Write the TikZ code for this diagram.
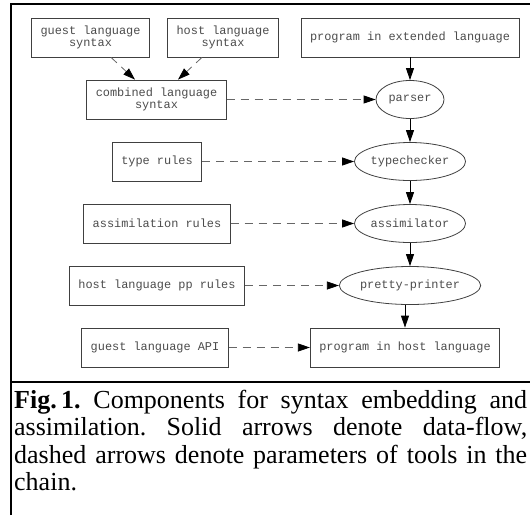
\documentclass[tikz,border=0pt]{standalone}
\usepackage{fontspec}
\setmainfont{Liberation Serif}
\setmonofont{Liberation Mono}
\usetikzlibrary{shapes.geometric, arrows.meta}

\tikzset{
  tool/.style={draw=black!75, line width=0.8pt, text=black!70, inner ysep=0pt,
    font=\ttfamily\fontsize{11.9}{12.5}\selectfont, align=center},
  toolbox/.style={tool, inner xsep=9pt, minimum height=39pt},
  stage/.style={tool, ellipse, inner xsep=0pt, minimum height=38pt},
  flow/.style={line width=0.8pt, -{Triangle[length=12pt,width=8pt]}},
  param/.style={flow, draw=black!60, dash pattern=on 8pt off 6pt,
    -{Triangle[length=12pt,width=8pt,color=black]}},
}

\begin{document}
\begin{tikzpicture}[x=1pt, y=-1pt]
    \useasboundingbox (0,0) rectangle (530,515);

    % frame
    \draw[line width=1.3pt] (11,515) -- (11,4) -- (530,4);
    \draw[line width=1.3pt] (11,382) -- (530,382);

    % inputs
    \node[toolbox] (guest) at (90.5,37.5) {guest language\\syntax};
    \node[toolbox] (host) at (223,37.5) {host language\\syntax};
    \node[toolbox] (comb) at (156.5,99.5) {combined language\\syntax};
    \node[toolbox] (types) at (157,161.5) {type rules};
    \node[toolbox] (assim) at (157,223.5) {assimilation rules};
    \node[toolbox] (pprules) at (157,285.5) {host language pp rules};
    \node[toolbox] (api) at (155,347.5) {guest language API};

    % tool chain
    \node[toolbox] (extprog) at (410,37.5) {program in extended language};
    \node[stage, minimum width=68pt] (parser) at (410,99.5) {parser};
    \node[stage, minimum width=105pt] (checker) at (410,161.5) {typechecker};
    \node[stage, minimum width=105pt] (assimilator) at (410,223.5) {assimilator};
    \node[stage, minimum width=125pt] (printer) at (410,285.5) {pretty-printer};
    \node[toolbox] (hostprog) at (405,347.5) {program in host language};

    % data-flow
    \foreach \a/\b in {extprog/parser, parser/checker, checker/assimilator, assimilator/printer}
        \draw[flow] (\a) -- (\b);
    \draw[flow] (hostprog.north |- printer.south) -- (hostprog.north);

    % parameters
    \draw[param] ([xshift=20.5pt]guest.south) -- ([xshift=-21.5pt]comb.north);
    \draw[param] ([xshift=-21pt]host.south) -- ([xshift=21.5pt]comb.north);
    \foreach \a/\b in {comb/parser, types/checker, assim/assimilator, pprules/printer, api/hostprog}
        \draw[param] (\a.east) -- (\b.west);

    % caption
    \node[anchor=north west, text width=513pt, inner sep=0pt, align=justify,
        font=\fontsize{26}{27.3}\selectfont\frenchspacing] (caption) at (14,390)
        {\textbf{Fig.\,1.} Components for syntax embedding and\linebreak
         assimilation. Solid arrows denote data-flow,\linebreak
         dashed arrows denote parameters of tools in the\linebreak
         chain.};
\end{tikzpicture}
\end{document}
